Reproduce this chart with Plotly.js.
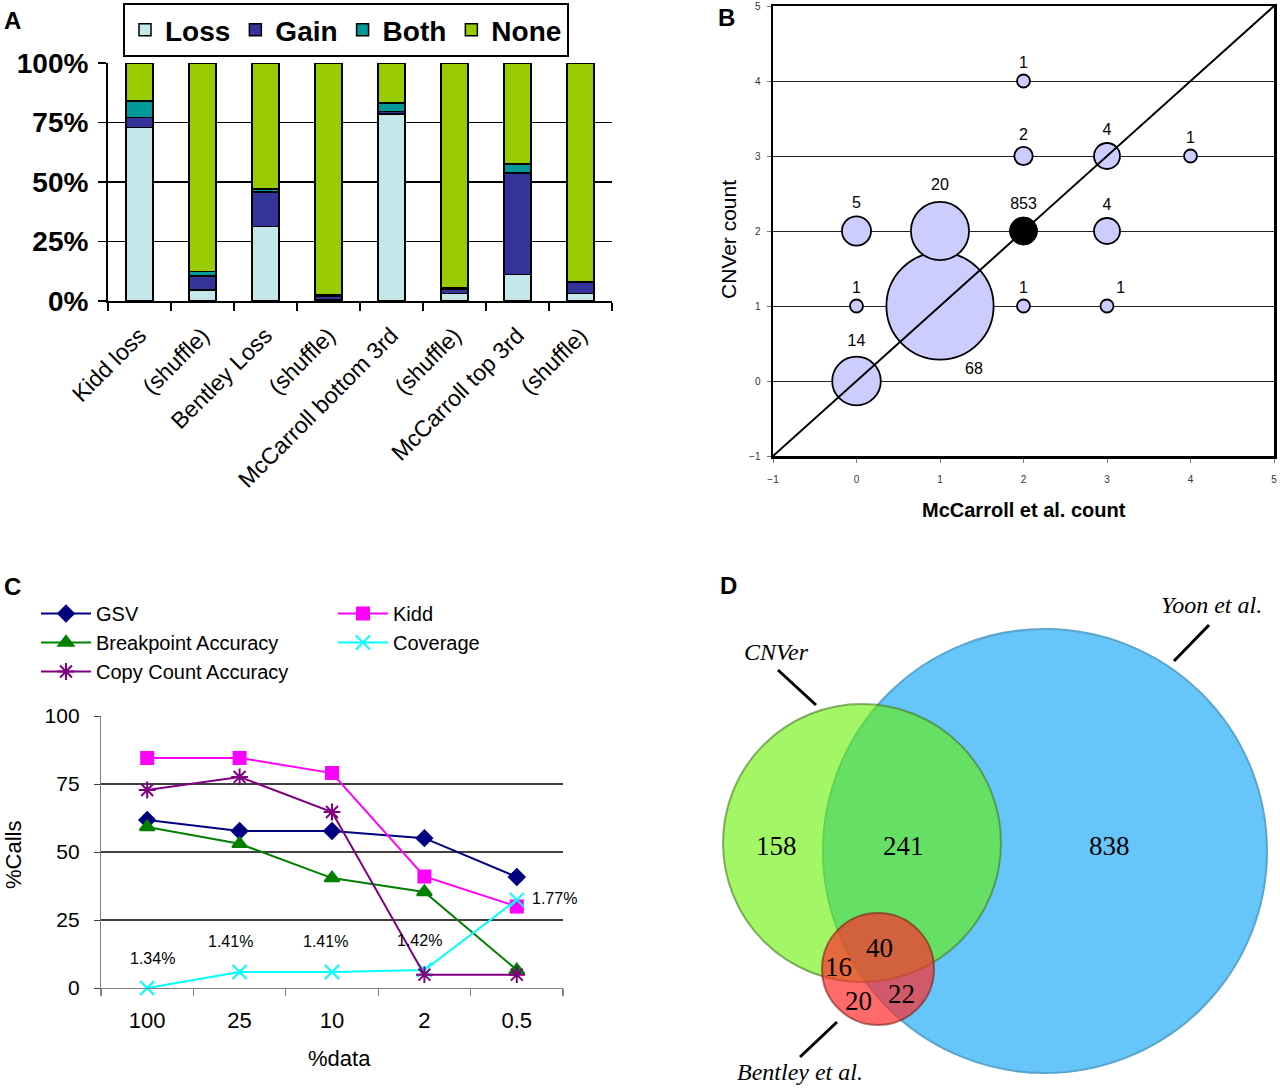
<!DOCTYPE html>
<html>
<head>
<meta charset="utf-8">
<script src="https://cdn.plot.ly/plotly-3.0.1.min.js"></script>
<style>html,body{margin:0;padding:0;background:#fff;}#chart{width:1280px;height:1089px;}</style>
</head>
<body>
<div id="chart"></div>
<script>
// ---------- Panel A data ----------
const catA = ['Kidd loss', '(shuffle)', 'Bentley Loss', '(shuffle)', 'McCarroll bottom 3rd', '(shuffle)', 'McCarroll top 3rd', '(shuffle)'];
const lossA = [73, 4.6, 31.2, 0.5, 78.5, 3.2, 11.2, 3.2];
const gainA = [4, 5.9, 14.7, 1.5, 1.2, 1.8, 42.6, 4.5];
const bothA = [7, 1.8, 1.1, 0.5, 3.5, 0.5, 3.7, 0.4];
const noneA = [16, 87.7, 53, 97.5, 16.8, 94.5, 42.5, 91.9];
const yTicksA = [0, 25, 50, 75, 100];

// ---------- Panel B data ----------
const mcCount = [0, 0, 0, 1, 1, 2, 2, 2, 3, 3, 3, 4];
const cnverCount = [0, 1, 2, 1, 2, 1, 3, 4, 1, 2, 3, 3];
const pairN = [14, 1, 5, 68, 20, 1, 2, 1, 1, 4, 4, 1];
const agreeMc = [2];
const agreeCn = [2];
const agreeN = [853];
const rangeB = [-1, 5];

// ---------- Panel C data ----------
const pctData = ['100', '25', '10', '2', '0.5'];
const gsv = [61.8, 57.7, 57.7, 55.1, 40.8];
const kidd = [84.6, 84.6, 79, 41, 30];
const breakpointAcc = [59.2, 53, 40.4, 35.3, 6.6];
const coverage = [0, 5.9, 5.9, 6.6, 32.4];
const copyCountAcc = [72.8, 77.6, 64.7, 4.9, 4.9];
const coverageLabels = ['1.34%', '1.41%', '1.41%', '1.42%', '1.77%'];

// ---------- Panel D data ----------
const vennRegionLabels = ['158', '241', '838', '40', '16', '20', '22'];
const vennSetNames = ['CNVer', 'Yoon et al.', 'Bentley et al.'];

// ---------- helpers / styles ----------
const W = 1280, H = 1089;
const px = x => x / W;
const py = y => 1 - y / H;
const AR = 'Arial, Liberation Sans, sans-serif';
const SERIF = 'Times New Roman, Liberation Serif, serif';

const idxA = catA.map((_, i) => i);
const idxC = pctData.map((_, i) => i);
const colA = {Loss: '#c4e8ea', Gain: '#333399', Both: '#009999', None: '#99cc00'};
const seriesA = [['Loss', lossA], ['Gain', gainA], ['Both', bothA], ['None', noneA]];

const traces = [];
seriesA.forEach(([name, vals]) => {
  traces.push({
    type: 'bar', x: idxA, y: vals, name: name, xaxis: 'x', yaxis: 'y',
    marker: {color: colA[name], line: {color: '#000', width: 1.5}},
    legend: 'legend', hoverinfo: 'skip'
  });
});

// Panel B
const bubbleSize = pairN.map(n => Math.max(11, 13 * Math.sqrt(n)));
const bigIdx = pairN.indexOf(Math.max(...pairN));
const textPosB = pairN.map((n, i) => (mcCount[i] === 3 && cnverCount[i] === 1 ? 'top right' : 'top center'));
traces.push({
  type: 'scatter', mode: 'markers+text', x: mcCount, y: cnverCount,
  text: pairN.map((n, i) => (i === bigIdx ? '' : String(n))),
  textposition: textPosB, textfont: {family: AR, size: 16, color: '#000'},
  marker: {size: bubbleSize, color: '#ccccff', line: {color: '#000', width: 1.8}, opacity: 1},
  xaxis: 'x2', yaxis: 'y2', showlegend: false, cliponaxis: false, hoverinfo: 'skip'
});
traces.push({
  type: 'scatter', mode: 'lines', x: rangeB, y: rangeB, line: {color: '#000', width: 2},
  xaxis: 'x2', yaxis: 'y2', showlegend: false, hoverinfo: 'skip'
});
traces.push({
  type: 'scatter', mode: 'markers+text', x: agreeMc, y: agreeCn, text: agreeN.map(String),
  textposition: 'top center', textfont: {family: AR, size: 16, color: '#000'},
  marker: {size: 28, color: '#000', line: {color: '#000', width: 1}},
  xaxis: 'x2', yaxis: 'y2', showlegend: false, cliponaxis: false, hoverinfo: 'skip'
});

// Panel C
const seriesC = [
  {name: 'GSV', y: gsv, color: '#000080', symbol: 'diamond', size: 12, legend: 'legend2'},
  {name: 'Kidd', y: kidd, color: '#ff00ff', symbol: 'square', size: 12, legend: 'legend3'},
  {name: 'Breakpoint Accuracy', y: breakpointAcc, color: '#008000', symbol: 'triangle-up', size: 13, legend: 'legend2'},
  {name: 'Coverage', y: coverage, color: '#00ffff', symbol: 'x-thin-open', size: 14, legend: 'legend3'},
  {name: 'Copy Count Accuracy', y: copyCountAcc, color: '#800080', symbol: 'asterisk-open', size: 14, legend: 'legend2'}
];
seriesC.forEach(s => {
  traces.push({
    type: 'scatter', mode: 'lines+markers', x: idxC, y: s.y, name: s.name,
    line: {color: s.color, width: 2},
    marker: {symbol: s.symbol, size: s.size, color: s.color, line: {color: s.color, width: 2}},
    xaxis: 'x3', yaxis: 'y3', legend: s.legend, cliponaxis: false, hoverinfo: 'skip'
  });
});

// Panel D placeholder trace to create axes
traces.push({type: 'scatter', x: [], y: [], xaxis: 'x4', yaxis: 'y4', showlegend: false});

// ---------- annotations ----------
const ann = [];
const paperText = (t, x, y, font, extra) => ann.push(Object.assign({text: t, x: px(x), y: py(y), xref: 'paper', yref: 'paper',
  showarrow: false, xanchor: 'center', yanchor: 'middle', font: font}, extra || {}));
const bold24 = {family: AR, size: 24, color: '#000', weight: 'bold'};
paperText('A', 12, 20, bold24); paperText('B', 726, 18, bold24); paperText('C', 12, 586, bold24); paperText('D', 728, 585, bold24);
paperText('CNVer count', 728, 240, {family: AR, size: 21, color: '#000'}, {textangle: -90});
paperText('McCarroll et al. count', 1024, 510, {family: AR, size: 20, color: '#000', weight: 'bold'});
paperText('%Calls', 13, 855, {family: AR, size: 22, color: '#000'}, {textangle: -90});
paperText('%data', 339, 1058, {family: AR, size: 22, color: '#000'});

// label of the largest bubble sits below-right of it
ann.push({text: String(pairN[bigIdx]), x: mcCount[bigIdx], y: cnverCount[bigIdx], xref: 'x2', yref: 'y2', showarrow: false,
  xanchor: 'center', yanchor: 'middle', xshift: 34, yshift: -62, font: {family: AR, size: 16, color: '#000'}});

const covShift = [[5, 30], [-9, 30], [-7, 30], [-5, 30], [38, 1]];
coverageLabels.forEach((t, i) => {
  ann.push({text: t, x: idxC[i], y: coverage[i], xref: 'x3', yref: 'y3', showarrow: false, xanchor: 'center', yanchor: 'middle',
    xshift: covShift[i][0], yshift: covShift[i][1], font: {family: AR, size: 16, color: '#000'}});
});

// Venn geometry (panel D, axis units = px inside panel)
const vennCircles = [
  {cx: 1045, cy: 851, r: 222, fill: 'rgb(102,198,250)', line: 'rgb(90,165,205)'},
  {cx: 862, cy: 843, r: 139, fill: 'rgba(101,242,0,0.6)', line: 'rgba(70,120,30,0.6)'},
  {cx: 878, cy: 969, r: 56, fill: 'rgba(255,44,44,0.7)', line: 'rgba(120,30,20,0.6)'}
];
const shapes = vennCircles.map(c => ({
  type: 'circle', xref: 'x4', yref: 'y4', x0: c.cx - c.r, x1: c.cx + c.r, y0: c.cy - c.r, y1: c.cy + c.r,
  fillcolor: c.fill, line: {color: c.line, width: 2}, layer: 'above'
}));
const regionPos = [[776, 846], [903, 846], [1109, 846], [879, 948], [838, 967], [858, 1001], [901, 994]];
vennRegionLabels.forEach((t, i) => {
  ann.push({text: t, x: regionPos[i][0], y: regionPos[i][1], xref: 'x4', yref: 'y4', showarrow: false,
    xanchor: 'center', yanchor: 'middle', font: {family: SERIF, size: 27, color: '#000'}});
});
const namePos = [[776, 652], [1211, 605], [800, 1072]];
const pointers = [[778, 670, 816, 705], [1209, 625, 1174, 661], [837, 1022, 800, 1057]];
vennSetNames.forEach((t, i) => {
  ann.push({text: '<i>' + t + '</i>', x: namePos[i][0], y: namePos[i][1], xref: 'x4', yref: 'y4', showarrow: false,
    xanchor: 'center', yanchor: 'middle', font: {family: SERIF, size: 24, color: '#000'}});
  const p = pointers[i];
  shapes.push({type: 'line', xref: 'x4', yref: 'y4', x0: p[0], y0: p[1], x1: p[2], y1: p[3], line: {color: '#000', width: 3}});
});

// ---------- layout ----------
const layout = {
  width: W, height: H, margin: {l: 0, r: 0, t: 0, b: 0},
  paper_bgcolor: '#fff', plot_bgcolor: 'rgba(0,0,0,0)',
  font: {family: AR, color: '#000'},
  barmode: 'stack', bargap: 0.576,
  // Panel A
  xaxis: {domain: [px(108), px(612)], anchor: 'y', range: [-0.5, 7.5], tickmode: 'array', tickvals: idxA, ticktext: catA,
    tickangle: -45, tickfont: {family: AR, size: 23, color: '#000'}, ticks: '', showgrid: false, zeroline: false,
    showline: true, linecolor: '#000', linewidth: 2, ticklabelstandoff: 10,
    minor: {tickmode: 'linear', tick0: 0.5, dtick: 1, ticks: 'outside', ticklen: 8, tickwidth: 1.5, tickcolor: '#000', showgrid: false}},
  yaxis: {domain: [py(301), py(63)], anchor: 'x', range: [0, 100], tickmode: 'array', tickvals: yTicksA,
    ticktext: yTicksA.map(v => v + '%'),
    tickfont: {family: AR, size: 28, color: '#000', weight: 'bold'}, showgrid: true, gridcolor: '#000', gridwidth: 1.5,
    zeroline: false, showline: true, linecolor: '#000', linewidth: 2, ticks: 'outside', ticklen: 8, tickwidth: 1.5, tickcolor: '#000',
    ticklabelstandoff: 4},
  // Panel B
  xaxis2: {domain: [px(773), px(1274)], anchor: 'y2', range: rangeB, dtick: 1, tick0: -1, showgrid: false, zeroline: false,
    showline: true, mirror: true, linecolor: '#000', linewidth: 2.5, ticks: 'outside', ticklen: 4, tickcolor: '#777',
    tickfont: {family: AR, size: 10, color: '#333'}, ticklabelstandoff: 8},
  yaxis2: {domain: [py(456), py(6)], anchor: 'x2', range: rangeB, dtick: 1, tick0: -1, showgrid: true, gridcolor: '#222', gridwidth: 1,
    zeroline: false, showline: true, mirror: true, linecolor: '#000', linewidth: 2.5, ticks: 'outside', ticklen: 4, tickcolor: '#777',
    tickfont: {family: AR, size: 10, color: '#333'}, ticklabelstandoff: 4},
  // Panel C
  xaxis3: {domain: [px(101), px(563)], anchor: 'y3', range: [-0.5, idxC.length - 0.5], tickmode: 'array', tickvals: idxC, ticktext: pctData,
    ticks: '', showline: true, linecolor: '#808080', linewidth: 1.2, showgrid: false, zeroline: false, tickangle: 0,
    tickfont: {family: AR, size: 22, color: '#000'}, ticklabelstandoff: 12,
    minor: {tickmode: 'linear', tick0: -0.5, dtick: 1, ticks: 'outside', ticklen: 7, tickwidth: 1.2, tickcolor: '#808080', showgrid: false}},
  yaxis3: {domain: [py(988), py(716)], anchor: 'x3', range: [0, 100], dtick: 25, showgrid: true, gridcolor: '#404040', gridwidth: 1.3,
    zeroline: false, showline: true, linecolor: '#808080', linewidth: 1.2, ticks: 'outside', ticklen: 6, tickcolor: '#404040',
    tickfont: {family: AR, size: 21, color: '#000'}, ticklabelstandoff: 10},
  // Panel D
  xaxis4: {domain: [px(700), 1], anchor: 'y4', range: [700, 1280], visible: false, fixedrange: true},
  yaxis4: {domain: [0, py(580)], anchor: 'x4', range: [1089, 580], visible: false, fixedrange: true},
  legend: {orientation: 'h', x: px(123), y: py(3), xanchor: 'left', yanchor: 'top', traceorder: 'normal',
    bordercolor: '#000', borderwidth: 2, bgcolor: '#fff', font: {family: AR, size: 28, color: '#000', weight: 'bold'}},
  legend2: {orientation: 'v', x: px(36), y: py(594), xanchor: 'left', yanchor: 'top', itemwidth: 50,
    bgcolor: 'rgba(0,0,0,0)', font: {family: AR, size: 20, color: '#000'}, tracegroupgap: 0},
  legend3: {orientation: 'v', x: px(333), y: py(594), xanchor: 'left', yanchor: 'top', itemwidth: 50,
    bgcolor: 'rgba(0,0,0,0)', font: {family: AR, size: 20, color: '#000'}, tracegroupgap: 0},
  annotations: ann,
  shapes: shapes,
  showlegend: true
};

Plotly.newPlot('chart', traces, layout, {staticPlot: true, displayModeBar: false});
</script>
</body>
</html>
